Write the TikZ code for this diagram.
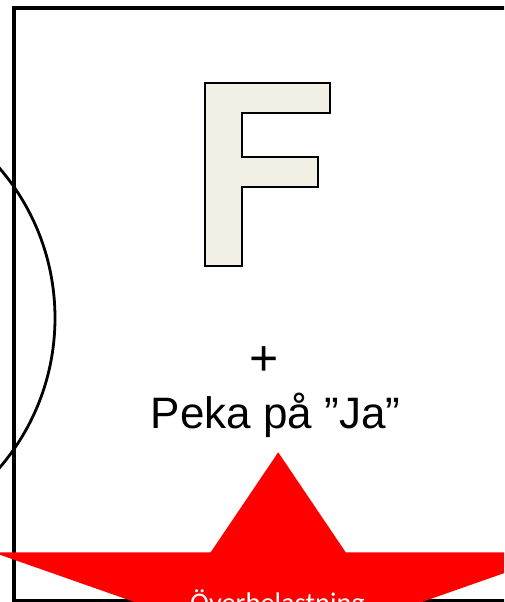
\documentclass[tikz,border=0pt]{standalone}
\usepackage{fontspec}
\setmainfont{Liberation Sans}
\newfontfamily\carl{Carlito}
\definecolor{fcream}{HTML}{F2F0E4}
\begin{document}
\begin{tikzpicture}[x=1pt,y=-1pt,
  frame/.style={draw=black,line width=3.5pt},
  ring/.style={draw=black,line width=2.8pt},
  letter/.style={draw=black,fill=fcream,line width=2.4pt,line join=miter},
  bigtext/.style={font=\fontsize{44}{44}\selectfont,anchor=base,inner sep=0pt},
  plustext/.style={font=\fontsize{50}{50}\selectfont,anchor=base,inner sep=0pt},
  startext/.style={font=\carl\fontsize{28.4}{28.4}\selectfont,text=white,anchor=base,inner sep=0pt}]
\useasboundingbox (0,0) rectangle (504,602);
\clip (0,0) rectangle (504,602);
% frame
\draw[frame] (13.8,8) rectangle (530,600.5);
% circle
\draw[ring] (-175,318) circle (230);
% F letter
\draw[letter] (205,83) -- (330,83) -- (330,113) -- (242,113) -- (242,157) -- (318,157)
  -- (318,187) -- (242,187) -- (242,266) -- (205,266) -- cycle;
% texts
\node[plustext] (plus) at (264,375) {+};
\node[bigtext] (peka) at (275.5,428) {Peka på ”Ja”};
% star
\fill[red] (278.2,452.3) -- (210.7,552.3) -- (-7.1,552.3) -- (169.0,614.1) -- (101.9,714.1)
  -- (278.2,652.3) -- (454.5,714.1) -- (387.4,614.1) -- (563.5,552.3) -- (345.7,552.3) -- cycle;
\node[startext] (over) at (277.5,612.4) {Överbelastning};
\end{tikzpicture}
\end{document}
